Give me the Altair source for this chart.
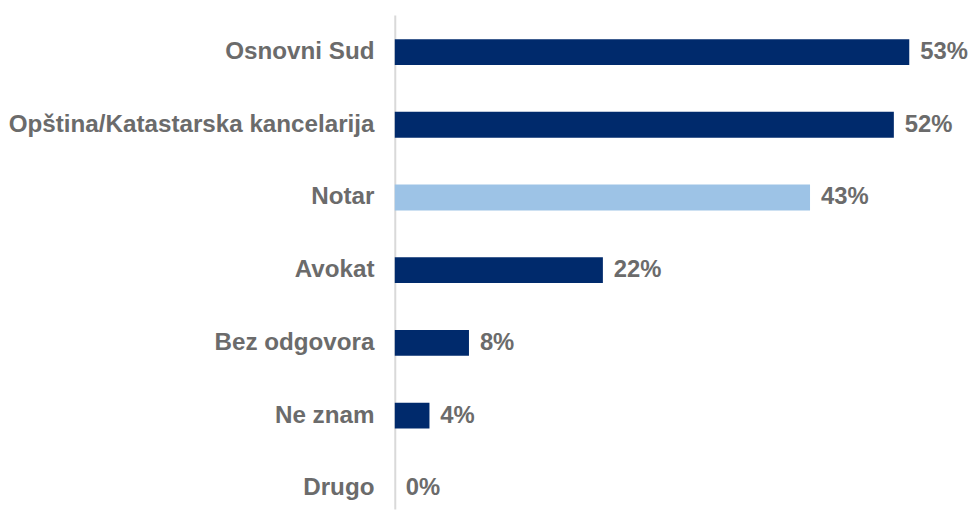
import altair as alt
import pandas as pd

categories = ["Osnovni Sud", "Opština/Katastarska kancelarija", "Notar", "Avokat",
              "Bez odgovora", "Ne znam", "Drugo"]
values = [53.4, 51.8, 43.1, 21.6, 7.7, 3.6, 0.0]
highlight = "Notar"

df = pd.DataFrame({"category": categories, "value": values})

FONT = "Liberation Sans"
GREY = "#6b6b6b"
DARK = "#002a6c"
LIGHT = "#9dc3e6"

y = alt.Y(
    "category:N", sort=categories, title=None,
    scale=alt.Scale(paddingInner=0.6455, paddingOuter=0.218, align=0.76, round=False),
    axis=alt.Axis(ticks=False, labelPadding=21, labelFont=FONT, labelFontSize=24.4,
                  labelFontWeight="bold", labelColor=GREY, domainColor="#d9d9d9",
                  domainWidth=2, labelLimit=450, grid=False),
)
x = alt.X("value:Q", scale=alt.Scale(domain=[0, 59.6], nice=False, zero=True), axis=None)

bars = alt.Chart(df).mark_bar().encode(
    x=x, y=y,
    color=alt.condition(alt.datum.category == highlight, alt.value(LIGHT), alt.value(DARK)),
)

labels = alt.Chart(df).transform_calculate(
    label="format(datum.value, '.0f') + '%'"
).mark_text(
    align="left", baseline="middle", dx=11, font=FONT, fontSize=24,
    fontWeight="bold", color=GREY,
).encode(x=x, y=y, text="label:N")

chart = alt.layer(bars, labels).properties(
    width=579, height=498,
    autosize=alt.AutoSizeParams(type="none"),
    padding={"left": 390, "top": 5, "right": 0, "bottom": 0},
).configure_view(stroke=None)

chart.save("out.html", embed_options={"renderer": "svg", "actions": False})
